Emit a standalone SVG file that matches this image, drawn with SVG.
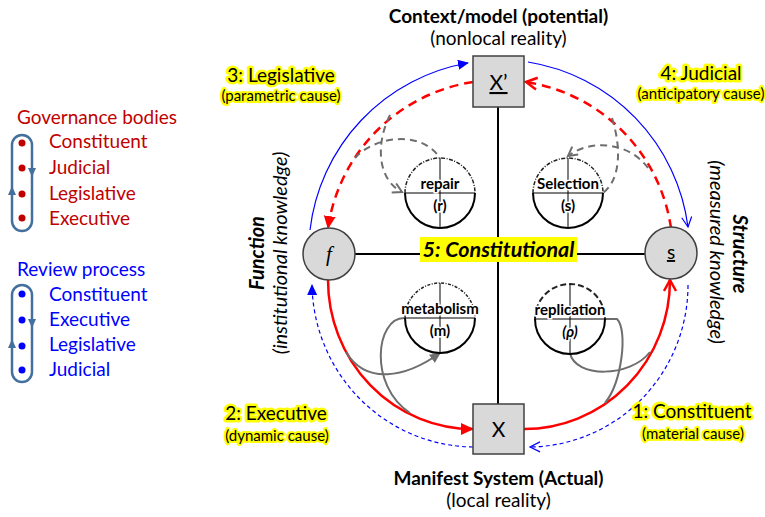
<svg xmlns="http://www.w3.org/2000/svg" width="765" height="517" viewBox="0 0 765 517">
<style>
text{font-family:Lato,"Liberation Sans",sans-serif;}
.lg{font-size:19px;}
.red{fill:#C00000;}
.blu{fill:#0000FF;}
.ttl{font-size:19px;font-weight:bold;fill:#000;text-anchor:middle;}
.sub{font-size:19px;fill:#000;text-anchor:middle;}
.hl{font-size:19px;fill:#000;text-anchor:middle;stroke:#FFFF00;stroke-width:5;stroke-linejoin:round;paint-order:stroke;}
.hls{font-size:15px;fill:#000;text-anchor:middle;stroke:#FFFF00;stroke-width:4;stroke-linejoin:round;paint-order:stroke;}
.rot{font-size:20px;fill:#000;text-anchor:middle;font-style:italic;}
.sm{font-size:15px;font-weight:bold;fill:#000;text-anchor:middle;}
.node{fill:#D9D9D9;stroke:#404040;stroke-width:1.5;}
.half{fill:none;stroke:#000;stroke-width:2;}
.ax{stroke:#000;stroke-width:1;}
.axis{stroke:#000;stroke-width:2;}
.loop{fill:none;stroke:#44709D;stroke-width:2.5;}
.bs{fill:none;stroke:#0000FF;stroke-width:1.2;}
.bd{fill:none;stroke:#0000FF;stroke-width:1.2;stroke-dasharray:4 3;}
.rs{fill:none;stroke:#FF0000;stroke-width:2.5;}
.rd{fill:none;stroke:#FF0000;stroke-width:2.5;stroke-dasharray:9 6;}
.gd{fill:none;stroke:#6E6E6E;stroke-width:2;stroke-dasharray:7 5;}
.gs{fill:none;stroke:#6E6E6E;stroke-width:2;}
</style>
<defs>
<marker id="fb" markerWidth="12" markerHeight="12" refX="10" refY="5" orient="auto" markerUnits="userSpaceOnUse"><path d="M0,0 L11,5 L0,10 Z" fill="#0000FF"/></marker>
<marker id="ob" markerWidth="14" markerHeight="14" refX="11" refY="6" orient="auto" markerUnits="userSpaceOnUse"><path d="M1,1 L11,6 L1,11" fill="none" stroke="#0000FF" stroke-width="1.2"/></marker>
<marker id="fr" markerWidth="14" markerHeight="14" refX="12" refY="6" orient="auto" markerUnits="userSpaceOnUse"><path d="M0,0 L13,6 L0,12 Z" fill="#FF0000"/></marker>
<marker id="or" markerWidth="16" markerHeight="16" refX="12" refY="7" orient="auto" markerUnits="userSpaceOnUse"><path d="M1,1 L12,7 L1,13" fill="none" stroke="#FF0000" stroke-width="2.5"/></marker>
<marker id="og" markerWidth="14" markerHeight="14" refX="10" refY="6" orient="auto" markerUnits="userSpaceOnUse"><path d="M1,1 L10,6 L1,11" fill="none" stroke="#6E6E6E" stroke-width="2"/></marker>
<marker id="fg" markerWidth="12" markerHeight="12" refX="10" refY="5" orient="auto" markerUnits="userSpaceOnUse"><path d="M0,0 L11,5 L0,10 Z" fill="#6E6E6E"/></marker>
</defs>
<rect width="765" height="517" fill="#FFFFFF"/>

<g id="legend-governance">
<text class="lg red" x="17" y="124">Governance bodies</text>
<rect class="loop" x="12" y="135" width="20" height="96" rx="10"/>
<path d="M28,168 L36,168 L32,177 Z" fill="#44709D"/>
<path d="M8,195 L16,195 L12,186 Z" fill="#44709D"/>
<g fill="#C00000"><circle cx="22" cy="143" r="3.5"/><circle cx="22" cy="168" r="3.5"/><circle cx="22" cy="194" r="3.5"/><circle cx="22" cy="218" r="3.5"/></g>
<text class="lg red" x="49" y="148">Constituent</text>
<text class="lg red" x="49" y="174">Judicial</text>
<text class="lg red" x="49" y="200">Legislative</text>
<text class="lg red" x="49" y="225">Executive</text>
</g>

<g id="legend-review">
<text class="lg blu" x="17" y="276">Review process</text>
<rect class="loop" x="12" y="285" width="20" height="97" rx="10"/>
<path d="M28,319 L36,319 L32,328 Z" fill="#44709D"/>
<path d="M8,348 L16,348 L12,339 Z" fill="#44709D"/>
<g fill="#0000FF"><circle cx="22" cy="294" r="3.5"/><circle cx="22" cy="320" r="3.5"/><circle cx="22" cy="346" r="3.5"/><circle cx="22" cy="370" r="3.5"/></g>
<text class="lg blu" x="49" y="301">Constituent</text>
<text class="lg blu" x="49" y="326">Executive</text>
<text class="lg blu" x="49" y="351">Legislative</text>
<text class="lg blu" x="49" y="376">Judicial</text>
</g>

<g id="axes">
<line class="axis" x1="498" y1="107" x2="498" y2="404"/>
<line class="axis" x1="355" y1="254" x2="645" y2="254"/>
</g>

<g id="connectors">
<path class="bs" d="M 310 230 A 192 192 0 0 1 468 63" marker-end="url(#fb)"/>
<path class="bs" d="M 528 62 A 192 192 0 0 1 688 227" marker-end="url(#ob)"/>
<path class="bd" d="M 473 447 A 163 165 0 0 1 312 285" marker-end="url(#fb)"/>
<path class="bd" d="M 688 285 A 160 162 0 0 1 530 447" marker-end="url(#ob)"/>
<path class="rd" d="M 473 82 A 173 173 0 0 0 328 228" marker-end="url(#fr)"/>
<path class="rd" d="M 671 228 A 173 173 0 0 0 526 82" marker-end="url(#or)"/>
<path class="rs" d="M 328 280 A 145 149 0 0 0 473 429" marker-end="url(#fr)"/>
<path class="rs" d="M 524 429 A 146 149 0 0 0 670 280" marker-end="url(#or)"/>
<path class="gd" d="M 390 115 C 375 145, 378 180, 402 192" marker-end="url(#og)"/>
<path class="gd" d="M 355 158 C 372 138, 420 128, 440 158"/>
<path class="gd" d="M 612 118 C 622 150, 620 180, 603 193"/>
<path class="gd" d="M 648 168 C 630 143, 592 138, 568 156" marker-end="url(#og)"/>
<path class="gs" d="M 346 352 C 366 385, 405 378, 440 353" marker-end="url(#fg)"/>
<path class="gs" d="M 404 318 C 376 318, 368 385, 410 413"/>
<path class="gs" d="M 570 353 C 575 378, 630 378, 650 352"/>
<path class="gs" d="M 605 319 L 617 319 C 628 330, 622 382, 605 403"/>
</g>

<g id="node-Xp">
<rect class="node" x="473" y="56" width="51" height="51"/>
<text x="498.5" y="90" font-size="21" text-anchor="middle" text-decoration="underline">X’</text>
</g>
<g id="node-X">
<rect class="node" x="473" y="404" width="51" height="50"/>
<text x="498.5" y="437" font-size="21" text-anchor="middle">X</text>
</g>
<g id="node-f">
<circle class="node" cx="329" cy="254" r="26"/>
<text x="329" y="261" font-size="21" font-style="italic" text-anchor="middle" style="font-family:'Liberation Serif',serif">f</text>
</g>
<g id="node-s">
<circle class="node" cx="671" cy="253" r="26"/>
<text x="671" y="259" font-size="19" text-anchor="middle" text-decoration="underline">s</text>
</g>

<g id="node-repair">
<path d="M405,193 A35,35 0 0 1 475,193" fill="none" stroke="#222" stroke-width="1.5" stroke-dasharray="4 1.5 1 1.5"/>
<path class="half" d="M405,193 A35,35 0 0 0 475,193"/>
<line class="ax" x1="405" y1="193" x2="475" y2="193"/>
<line class="ax" x1="440" y1="158" x2="440" y2="228"/>
<text class="sm" x="440" y="189" stroke="#FFF" stroke-width="3" paint-order="stroke">repair</text>
<text class="sm" x="440" y="211" stroke="#FFF" stroke-width="3" paint-order="stroke">(r)</text>
</g>
<g id="node-selection">
<path d="M533,193 A35,35 0 0 1 603,193" fill="none" stroke="#222" stroke-width="1.5" stroke-dasharray="4 1.5 1 1.5"/>
<path class="half" d="M533,193 A35,35 0 0 0 603,193"/>
<line class="ax" x1="533" y1="193" x2="603" y2="193"/>
<line class="ax" x1="568" y1="158" x2="568" y2="228"/>
<text class="sm" x="568" y="189" stroke="#FFF" stroke-width="3" paint-order="stroke">Selection</text>
<text class="sm" x="568" y="211" stroke="#FFF" stroke-width="3" paint-order="stroke">(s)</text>
</g>
<g id="node-metabolism">
<path d="M405,318 A35,35 0 0 1 475,318" fill="none" stroke="#222" stroke-width="1.5" stroke-dasharray="3 1.5 1 1.5"/>
<path class="half" d="M405,318 A35,35 0 0 0 475,318"/>
<line class="ax" x1="405" y1="318" x2="475" y2="318"/>
<line class="ax" x1="440" y1="283" x2="440" y2="353"/>
<text class="sm" x="440" y="314" stroke="#FFF" stroke-width="3" paint-order="stroke">metabolism</text>
<text class="sm" x="440" y="336" stroke="#FFF" stroke-width="3" paint-order="stroke">(m)</text>
</g>
<g id="node-replication">
<path d="M535,319 A35,35 0 0 1 605,319" fill="none" stroke="#222" stroke-width="2" stroke-dasharray="6 3"/>
<path class="half" d="M535,319 A35,35 0 0 0 605,319"/>
<line class="ax" x1="535" y1="319" x2="605" y2="319"/>
<line class="ax" x1="570" y1="284" x2="570" y2="354"/>
<text class="sm" x="570" y="315" stroke="#FFF" stroke-width="3" paint-order="stroke">replication</text>
<text class="sm" x="570" y="337" font-style="italic" stroke="#FFF" stroke-width="3" paint-order="stroke">(ρ)</text>
</g>

<g id="label-constitutional">
<rect x="420" y="237" width="157" height="25" fill="#FFFF00"/>
<text x="498.5" y="257" font-size="21.5" font-weight="bold" font-style="italic" text-anchor="middle">5: Constitutional</text>
</g>

<g id="labels">
<text class="ttl" x="498.5" y="23">Context/model (potential)</text>
<text class="sub" x="498.5" y="45">(nonlocal reality)</text>
<text class="ttl" x="498.5" y="485">Manifest System (Actual)</text>
<text class="sub" x="498.5" y="507">(local reality)</text>
<text class="hl" x="281" y="82">3: Legislative</text>
<text class="hls" x="281" y="101">(parametric cause)</text>
<text class="hl" x="701" y="80">4: Judicial</text>
<text class="hls" x="701" y="99">(anticipatory cause)</text>
<text class="hl" x="276" y="420">2: Executive</text>
<text class="hls" x="277" y="441">(dynamic cause)</text>
<text class="hl" x="692" y="418">1: Constituent</text>
<text class="hls" x="693" y="439">(material cause)</text>
<text class="rot" font-weight="bold" transform="translate(264,253) rotate(-90)">Function</text>
<text class="rot" transform="translate(287,253) rotate(-90)">(institutional knowledge)</text>
<text class="rot" font-weight="bold" transform="translate(733,254) rotate(90)">Structure</text>
<text class="rot" transform="translate(710,252) rotate(90)">(measured knowledge)</text>
</g>
</svg>
